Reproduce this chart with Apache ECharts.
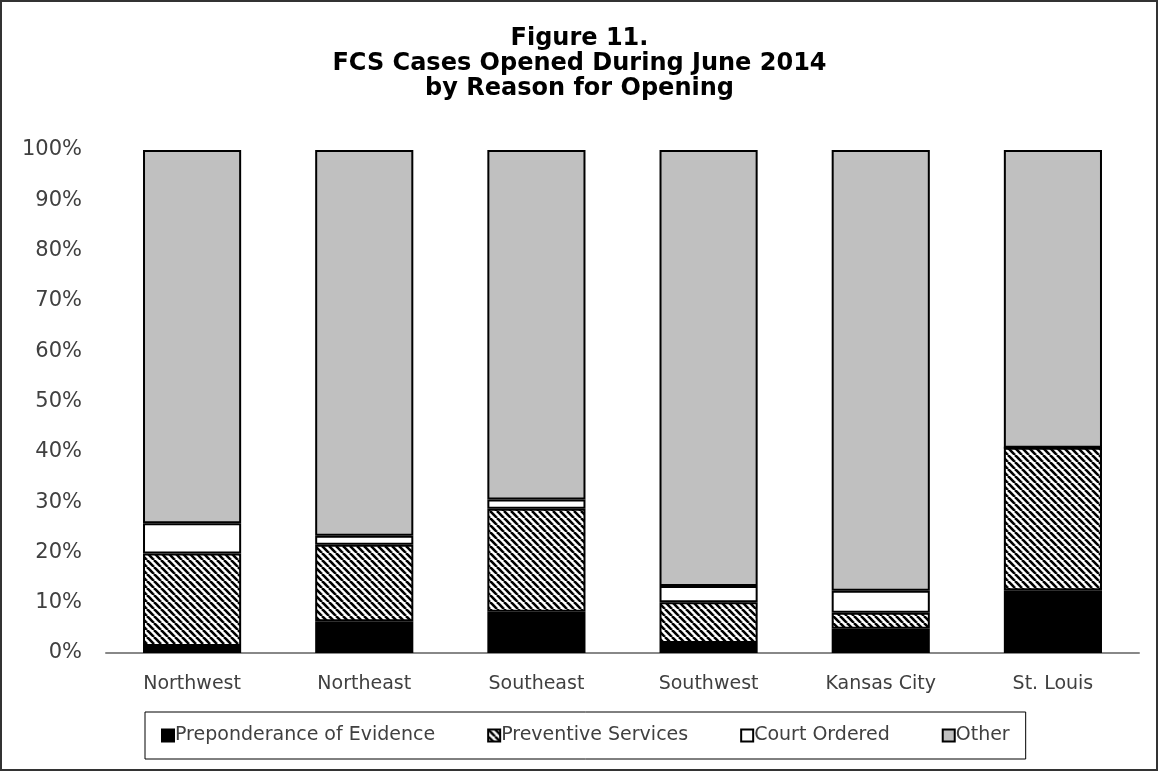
<!DOCTYPE html>
<html>
<head>
<meta charset="utf-8">
<script src="https://cdn.jsdelivr.net/npm/echarts@6/dist/echarts.min.js"></script>
<style>
  html, body { margin: 0; padding: 0; background: #fff; }
  #chart { width: 1159px; height: 772px; }
</style>
</head>
<body>
<div id="chart"></div>
<script>
// ========== 数据 ==========
const regions = ['Northwest', 'Northeast', 'Southeast', 'Southwest', 'Kansas City', 'St. Louis'];
const preponderance = [1.4, 6.3, 8.2, 2.0, 4.8, 12.5];
const preventive = [18.4, 15.2, 20.5, 8.1, 3.2, 28.3];
const courtOrdered = [6.0, 1.8, 1.8, 3.2, 4.4, 0.0];
const other = [74.2, 76.7, 69.5, 86.7, 87.6, 59.2];
const yTicks = [0, 10, 20, 30, 40, 50, 60, 70, 80, 90, 100];

// ========== 斜线填充 ==========
function hatchPattern() {
  const size = 7;
  const c = document.createElement('canvas');
  c.width = size; c.height = size;
  const ctx = c.getContext('2d');
  ctx.fillStyle = '#fff';
  ctx.fillRect(0, 0, size, size);
  ctx.strokeStyle = '#000';
  ctx.lineWidth = 2.6;
  for (let k = -1; k <= 1; k++) {
    ctx.beginPath();
    ctx.moveTo(k * size, 0);
    ctx.lineTo(k * size + size, size);
    ctx.stroke();
  }
  return { image: c, repeat: 'repeat' };
}

const chart = echarts.init(document.getElementById('chart'), null, { renderer: 'canvas' });

const border = { borderColor: '#000', borderWidth: 2 };
function barSeries(name, data, color) {
  return {
    name, type: 'bar', stack: 'all', data,
    barWidth: '57%',
    itemStyle: Object.assign({ color }, border),
    emphasis: { disabled: true }
  };
}

chart.setOption({
  backgroundColor: '#fff',
  animation: false,
  // 外框
  graphic: [{
    type: 'rect', silent: true,
    shape: { x: 1, y: 1, width: 1156, height: 769 },
    style: { fill: 'none', stroke: '#333', lineWidth: 2 }
  }],
  title: {
    text: 'Figure 11.\nFCS Cases Opened During June 2014\nby Reason for Opening',
    left: 'center', top: 21,
    textStyle: { fontFamily: 'DejaVu Sans', fontWeight: 'bold', fontSize: 24, lineHeight: 25, color: '#000' }
  },
  legend: {
    left: 145, top: 712,
    padding: [14, 16, 14, 16],
    borderColor: '#000', borderWidth: 1,
    itemWidth: 12, itemHeight: 12, itemGap: 52,
    icon: 'rect',
    textStyle: { fontFamily: 'DejaVu Sans', fontSize: 19, color: '#404040', padding: [0, 0, 0, -4] },
    data: ['Preponderance of Evidence', 'Preventive Services', 'Court Ordered', 'Other']
  },
  grid: { left: 106, right: 20, top: 150, bottom: 119, containLabel: false },
  xAxis: {
    type: 'category', data: regions,
    axisLine: { lineStyle: { color: '#888', width: 2 } },
    axisTick: { show: false },
    axisLabel: { fontFamily: 'DejaVu Sans', fontSize: 19, color: '#404040', margin: 22 }
  },
  yAxis: {
    type: 'value', min: yTicks[0], max: yTicks[yTicks.length - 1], interval: 10,
    axisLine: { show: false }, axisTick: { show: false }, splitLine: { show: false },
    axisLabel: { formatter: '{value}%', fontFamily: 'DejaVu Sans', fontSize: 21, color: '#404040', margin: 24 }
  },
  series: [
    barSeries('Preponderance of Evidence', preponderance, '#000'),
    barSeries('Preventive Services', preventive, hatchPattern()),
    barSeries('Court Ordered', courtOrdered, '#fff'),
    barSeries('Other', other, '#c0c0c0')
  ]
});
</script>
</body>
</html>
